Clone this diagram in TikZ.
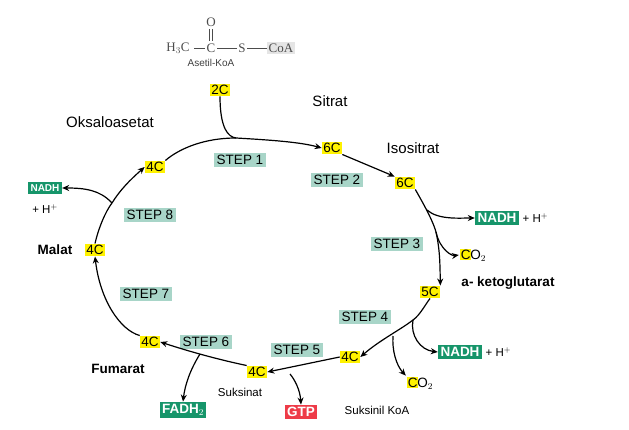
\documentclass[tikz,border=0pt]{standalone}
\usepackage{fontspec}
\setmainfont{Liberation Sans}
\newfontfamily\serifchem{Liberation Serif}
\usetikzlibrary{arrows.meta}
\definecolor{yel}{HTML}{FFF200}
\definecolor{stepc}{HTML}{A8D5C8}
\definecolor{nadhc}{HTML}{16956A}
\definecolor{gtpc}{HTML}{EE3B48}
\newcommand{\yc}{\setlength{\fboxsep}{0.8pt}\colorbox{yel}{C}}
\begin{document}
\begin{tikzpicture}[x=1pt,y=-1pt,
 cbox/.style={fill=yel,inner sep=1.5pt,font=\fontsize{13.5}{13.5}\selectfont},
 stepbox/.style={fill=stepc,inner sep=2.5pt,font=\fontsize{13.5}{13.5}\selectfont},
 nadh/.style={fill=nadhc,text=white,inner sep=2.5pt,font=\bfseries\fontsize{13.5}{13.5}\selectfont},
 lbl/.style={font=\fontsize{15}{15}\selectfont},
 blbl/.style={font=\bfseries\fontsize{13.5}{13.5}\selectfont},
 small/.style={font=\fontsize{11.5}{11.5}\selectfont},
 chem/.style={font=\serifchem\fontsize{13}{13}\selectfont,text=gray!60!black,inner sep=1.5pt},
 arr/.style={-{Stealth[length=7pt,width=6pt]},line width=1.2pt},
 ln/.style={line width=1.2pt}]
\useasboundingbox (0,0) rectangle (629,430);
% chemistry
\node[chem] (h3c) at (178,48) {H$_3$C};
\node[chem] (cc) at (211,48) {C};
\node[chem] (ox) at (211,22) {O};
\node[chem] (ss) at (242,48) {S};
\node[chem,fill=gray!20] (coa) at (281,48) {CoA};
\draw[gray!60!black] (h3c.east)++(3,0) -- (cc.west);
\draw[gray!60!black] (cc.east) -- (ss.west);
\draw[gray!60!black] (ss.east) -- (coa.west);
\draw[gray!60!black] (209.5,29) -- (209.5,41) (212.5,29) -- (212.5,41);
\node[font=\fontsize{10}{10}\selectfont,text=gray!50!black] (ak) at (211,63) {Asetil-KoA};
% carbon nodes
\node[cbox] (c2) at (220,90) {2C};
\node[cbox] (c6a) at (332,148) {6C};
\node[cbox] (c6b) at (405,183) {6C};
\node[cbox] (c5) at (430,292) {5C};
\node[cbox] (c4a) at (350,357) {4C};
\node[cbox] (c4b) at (257,372) {4C};
\node[cbox] (c4c) at (150,342) {4C};
\node[cbox] (c4d) at (95,250) {4C};
\node[cbox] (c4e) at (155,167) {4C};
% labels
\node[lbl] (sit) at (330,101) {Sitrat};
\node[lbl] (oks) at (110,122) {Oksaloasetat};
\node[lbl] (iso) at (413,148) {Isositrat};
\node[blbl] (akg) at (508,283) {a- ketoglutarat};
\node[blbl] (mal) at (55,250) {Malat};
\node[blbl] (fum) at (118,369) {Fumarat};
\node[small] (suk) at (240,392) {Suksinat};
\node[small] (skoa) at (377,410) {Suksinil KoA};
% steps
\node[stepbox] (s1) at (240,160) {STEP 1};
\node[stepbox] (s2) at (337,180) {STEP 2};
\node[stepbox] (s3) at (397,244) {STEP 3};
\node[stepbox] (s4) at (365,317) {STEP 4};
\node[stepbox] (s5) at (297,350) {STEP 5};
\node[stepbox] (s6) at (206,342) {STEP 6};
\node[stepbox] (s7) at (146,294) {STEP 7};
\node[stepbox] (s8) at (150,215) {STEP 8};
% products
\node[nadh] (n1) at (497,218) {NADH};
\node[small,anchor=west] (h1) at (n1.east) {+ H$^+$};
\node[nadh] (n2) at (460,352) {NADH};
\node[small,anchor=west] (h2) at (n2.east) {+ H$^+$};
\node[nadh,font=\bfseries\fontsize{10}{10}\selectfont] (n3) at (45,188) {NADH};
\node[small] (h3) at (45,209) {+ H$^+$};
\node[font=\fontsize{13.5}{13.5}\selectfont,inner sep=1pt] (co1) at (473,255) {\yc\kern-1pt O$_2$};
\node[font=\fontsize{13.5}{13.5}\selectfont,inner sep=1pt] (co2) at (420,383) {\yc\kern-1pt O$_2$};
\node[nadh] (fadh) at (183,410) {FADH$_2$};
\node[nadh,fill=gtpc] (gtp) at (301,412) {GTP};
% main cycle
\coordinate (j1) at (236,138);
\draw[arr] (c2.south) .. controls (220,128) and (228,137) .. (j1) .. controls (270,140) and (300,142) .. (c6a.west);
\draw[ln] (c4e.north east) .. controls (180,148) and (205,138) .. (j1);
\draw[arr] (c6a.south east) -- (c6b.north west);
\coordinate (j2) at (427,210);
\coordinate (j3) at (436,232);
\draw[arr] (c6b.south east) .. controls (420,198) and (432,218) .. (j3) .. controls (440,250) and (440,265) .. (c5.north east);
\draw[arr] (j2) .. controls (438,220) and (460,218) .. (n1.west);
\draw[arr] (j3) .. controls (440,250) and (452,256) .. (co1.west);
\coordinate (j4) at (413,320);
\coordinate (j5) at (393,336);
\draw[arr] (c5.south) .. controls (425,305) and (420,315) .. (j4) .. controls (400,330) and (380,340) .. (c4a.east);
\draw[arr] (j4) .. controls (410,335) and (420,350) .. (n2.west);
\draw[arr] (j5) .. controls (392,350) and (396,365) .. (co2.north west);
\draw[arr] (c4a.west) -- (c4b.east);
\coordinate (j6) at (290,374);
\draw[arr] (j6) .. controls (295,380) and (300,390) .. (gtp.north);
\coordinate (j7) at (200,354);
\draw[arr] (c4b.north west) .. controls (230,362) and (200,355) .. (c4c.east);
\draw[arr] (j7) .. controls (190,370) and (185,385) .. (fadh.north);
\draw[arr] (c4c.north west) .. controls (120,330) and (100,300) .. (c4d.south);
\coordinate (j8) at (112,203);
\draw[arr] (c4d.north) .. controls (98,230) and (105,212) .. (j8) .. controls (120,190) and (130,180) .. (c4e.west);
\draw[arr] (j8) .. controls (100,190) and (85,188) .. (n3.east);
\end{tikzpicture}
\end{document}
